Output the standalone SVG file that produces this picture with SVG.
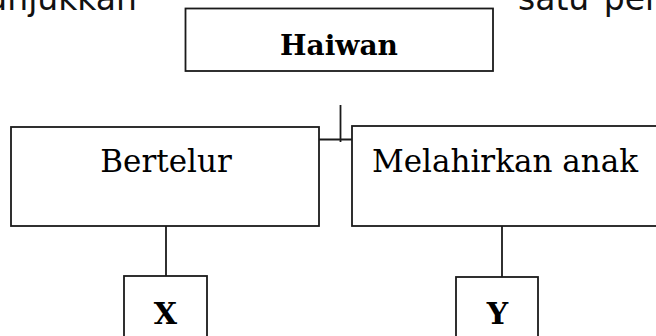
<svg xmlns="http://www.w3.org/2000/svg" width="656" height="336" viewBox="0 0 656 336">
<style>
.box{fill:#fff;stroke:#1a1a1a;stroke-width:1.8}
.ln{stroke:#1a1a1a;stroke-width:1.8;fill:none}
.t{font-family:"DejaVu Serif","Liberation Serif",serif;fill:#000}
.b{font-weight:bold}
.top{font-family:"DejaVu Sans","Open Sans",sans-serif;font-size:33px;fill:#111}
</style>
<rect width="656" height="336" fill="#fff"/>
<text class="top" x="137" y="10" text-anchor="end">unjukkan</text>
<text class="top" x="518" y="10" word-spacing="4">satu pen</text>
<g id="connectors">
<line class="ln" x1="340.5" y1="105" x2="340.5" y2="142"/>
<line class="ln" x1="319" y1="139.5" x2="352" y2="139.5"/>
<line class="ln" x1="166" y1="226" x2="166" y2="276"/>
<line class="ln" x1="502" y1="226" x2="502" y2="277"/>
</g>
<g id="haiwan">
<rect class="box" x="185.5" y="8.5" width="307.5" height="62.5"/>
<text class="t b" x="339" y="55" font-size="28" text-anchor="middle">Haiwan</text>
</g>
<g id="bertelur">
<rect class="box" x="11" y="127" width="308" height="99"/>
<text class="t" x="166" y="172" font-size="31" text-anchor="middle">Bertelur</text>
</g>
<g id="melahirkan">
<rect class="box" x="352" y="126" width="310" height="100"/>
<text class="t" x="372" y="172" font-size="31">Melahirkan anak</text>
</g>
<g id="x">
<rect class="box" x="124" y="276" width="83" height="70"/>
<text class="t b" x="165.5" y="324" font-size="30" text-anchor="middle">X</text>
</g>
<g id="y">
<rect class="box" x="456" y="277" width="82" height="70"/>
<text class="t b" x="497.5" y="324" font-size="30" text-anchor="middle">Y</text>
</g>
</svg>
